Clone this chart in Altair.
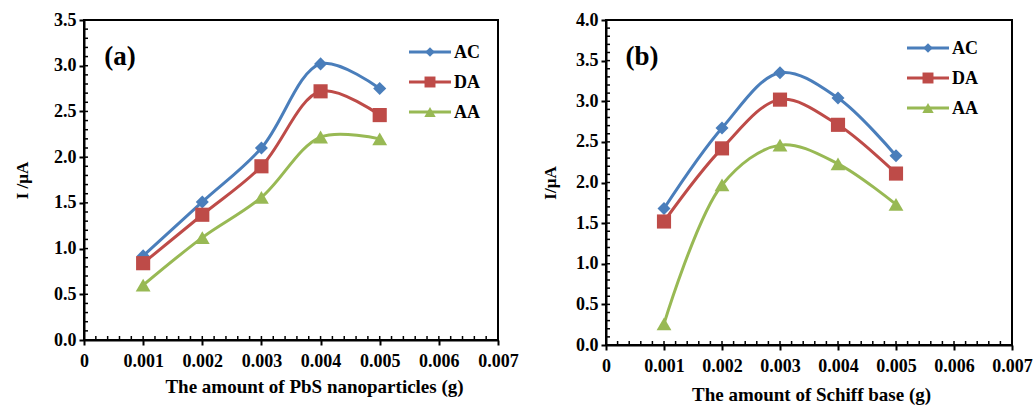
import altair as alt
import pandas as pd

x_vals = [0.001, 0.002, 0.003, 0.004, 0.005]
series = ["AC", "DA", "AA"]
colors = ["#4A7EBB", "#BE4B48", "#98B954"]
shapes = ["diamond", "square", "triangle-up"]
sizes = [170, 200, 220]
legend_sizes = [90, 120, 130]

a_AC = [0.92, 1.51, 2.10, 3.02, 2.75]
a_DA = [0.84, 1.37, 1.90, 2.72, 2.46]
a_AA = [0.60, 1.12, 1.56, 2.22, 2.20]

b_AC = [1.68, 2.67, 3.35, 3.04, 2.33]
b_DA = [1.52, 2.42, 3.02, 2.71, 2.11]
b_AA = [0.26, 1.97, 2.46, 2.23, 1.73]

x_major = [0, 0.001, 0.002, 0.003, 0.004, 0.005, 0.006, 0.007]
x_minor = [round(i * 0.0002, 4) for i in range(36)]

FONT = "Liberation Serif"


def make_df(ac, da, aa):
    rows = []
    for name, vals in zip(series, [ac, da, aa]):
        for xv, yv in zip(x_vals, vals):
            rows.append({"x": xv, "y": yv, "series": name})
    return pd.DataFrame(rows)


def panel(df, ymax, ytitle, xtitle, label, w, h, lx, ly, xtitle_x, ytitle_pad, xtitle_pad):
    y_major = [round(i * 0.5, 1) for i in range(int(ymax * 2) + 1)]
    y_minor = [round(i * 0.1, 1) for i in range(int(ymax * 10) + 1)]
    xs = alt.Scale(domain=[0, 0.007], nice=False, zero=False)
    ys = alt.Scale(domain=[0, ymax], nice=False)

    x_axis = alt.Axis(
        values=x_major, title=xtitle, orient="bottom",
        labelExpr="datum.value == 0 ? '0' : format(datum.value, '.3f')",
        labelFont=FONT, labelFontSize=18, labelFontWeight="bold", labelColor="black",
        labelPadding=7, labelFlush=False, labelOverlap=False,
        titleFont=FONT, titleFontSize=19, titleFontWeight="bold", titleColor="black",
        titlePadding=xtitle_pad, titleX=xtitle_x,
        tickSize=5, tickWidth=2, tickColor="black",
        domainColor="black", domainWidth=2, grid=False)
    y_axis = alt.Axis(
        values=y_major, title=ytitle, orient="left", format=".1f",
        labelFont=FONT, labelFontSize=18, labelFontWeight="bold", labelColor="black",
        labelPadding=3, labelFlush=False, labelOverlap=False,
        titleFont=FONT, titleFontSize=17, titleFontWeight="bold", titleColor="black",
        titlePadding=ytitle_pad,
        tickSize=5, tickWidth=2, tickColor="black",
        domainColor="black", domainWidth=2, grid=False)

    x_main = alt.X("x:Q", scale=xs, axis=x_axis)
    y_main = alt.Y("y:Q", scale=ys, axis=y_axis)

    base = alt.Chart(df)
    line = base.mark_line(interpolate="catmull-rom", strokeWidth=3).encode(
        x=x_main, y=y_main,
        color=alt.Color("series:N", scale=alt.Scale(domain=series, range=colors), legend=None),
        detail="series:N")

    layers = [line]
    for name, c, s, sz in zip(series, colors, shapes, sizes):
        layers.append(
            base.transform_filter(alt.datum.series == name).mark_point(
                filled=True, opacity=1, size=sz, shape=s, color=c, strokeWidth=0
            ).encode(x=x_main, y=y_main))

    # minor ticks (inside the plot)
    xm = alt.Chart(pd.DataFrame({"x": x_minor})).mark_rule(color="black", strokeWidth=1.5).encode(
        x=x_main, y=alt.value(h - 4), y2=alt.value(h))
    ym = alt.Chart(pd.DataFrame({"y": y_minor})).mark_rule(color="black", strokeWidth=1.5).encode(
        y=y_main, x=alt.value(0), x2=alt.value(4))
    layers += [xm, ym]

    # legend drawn inside the plot
    for i, (name, c, s, lsz) in enumerate(zip(series, colors, shapes, legend_sizes)):
        ld = alt.Chart(pd.DataFrame({"t": [name]}))
        yy = ly + 30 * i
        layers.append(ld.mark_rule(color=c, strokeWidth=3).encode(
            x=alt.value(lx), x2=alt.value(lx + 42), y=alt.value(yy)))
        layers.append(ld.mark_point(filled=True, opacity=1, shape=s, color=c, size=lsz,
                                    strokeWidth=0).encode(
            x=alt.value(lx + 21), y=alt.value(yy)))
        layers.append(ld.mark_text(font=FONT, fontSize=18, fontWeight="bold", color="black",
                                   align="left", baseline="middle").encode(
            text="t:N", x=alt.value(lx + 45), y=alt.value(yy + 1)))

    txt = alt.Chart(pd.DataFrame({"t": [label]})).mark_text(
        font=FONT, fontSize=27, fontWeight="bold", color="black", align="center",
        baseline="middle").encode(text="t:N", x=alt.value(36), y=alt.value(37))
    layers.append(txt)

    return alt.layer(*layers).properties(width=w, height=h)


pa = panel(make_df(a_AC, a_DA, a_AA), 3.5, "I /µA", "The amount of PbS nanoparticles (g)",
           "(a)", 414, 320, 325, 32, 230, 22, 7)
pb = panel(make_df(b_AC, b_DA, b_AA), 4.0, "I/µA", "The amount of Schiff base (g)",
           "(b)", 406, 325, 301, 28, 205, 16, 10)

chart = alt.hconcat(pa, pb, spacing=20).resolve_scale(
    x="independent", y="independent", color="independent"
).configure_view(stroke="black", strokeWidth=2).properties(
    padding={"left": 12, "top": 10, "right": 0, "bottom": 0}, background="white")

chart.save("out.html", embed_options={"renderer": "svg", "actions": False})
